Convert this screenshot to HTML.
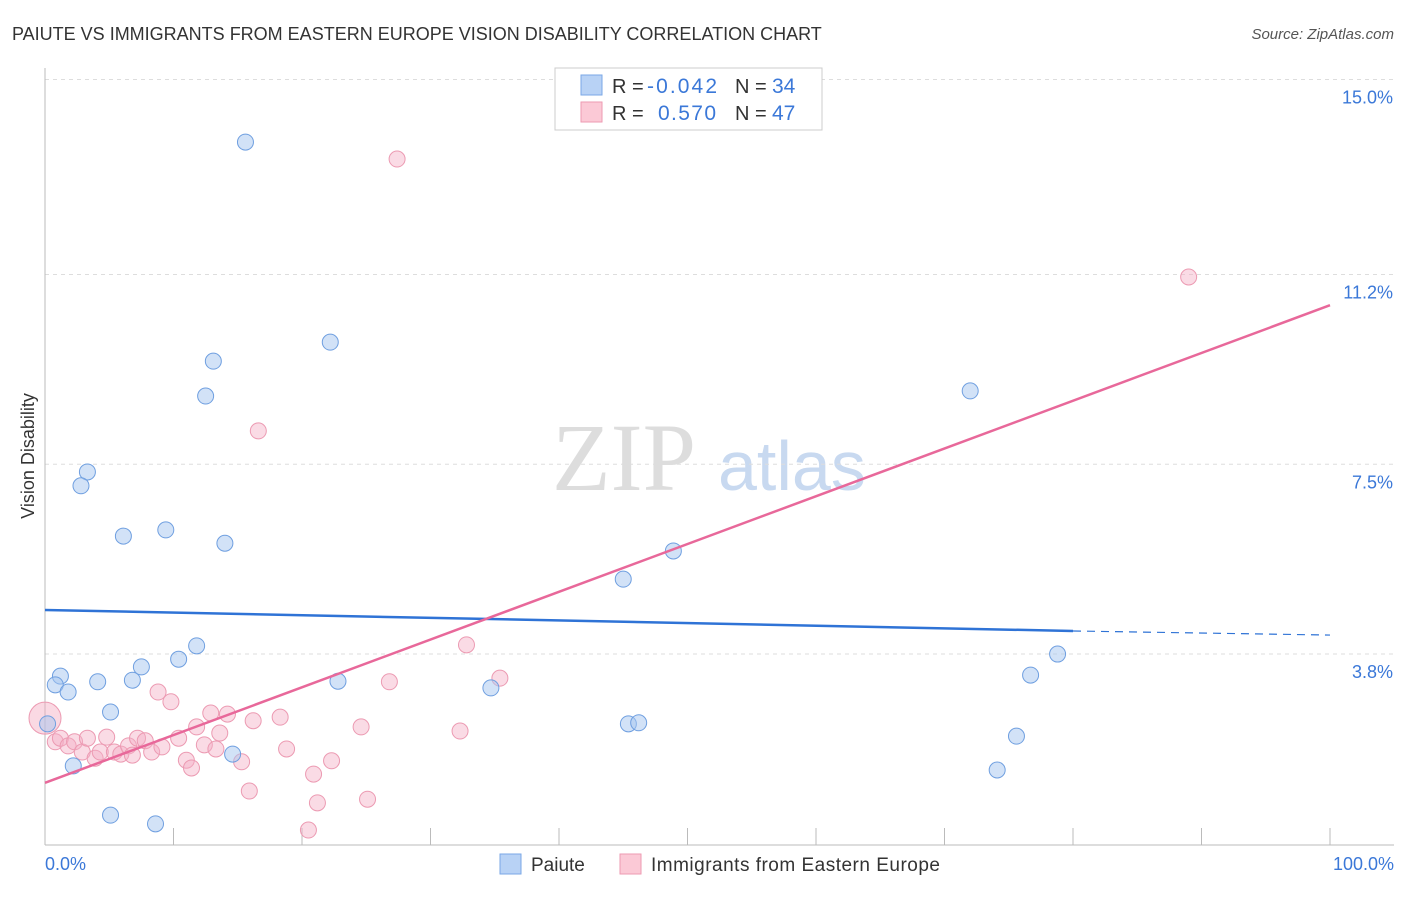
<!DOCTYPE html>
<html><head><meta charset="utf-8">
<style>
body{margin:0;background:#fff;font-family:"Liberation Sans",sans-serif;}
svg text{font-family:"Liberation Sans",sans-serif;}
</style></head>
<body>
<svg id="chart" width="1406" height="892" viewBox="0 0 1406 892">
<text x="12" y="40" font-size="18" fill="#333">PAIUTE VS IMMIGRANTS FROM EASTERN EUROPE VISION DISABILITY CORRELATION CHART</text>
<text x="1394" y="39" font-size="15" fill="#555" font-style="italic" text-anchor="end">Source: ZipAtlas.com</text>
<text x="34" y="456" font-size="18" fill="#333" text-anchor="middle" transform="rotate(-90 34 456)">Vision Disability</text>
<text x="552" y="490" font-size="96" fill="#ddd" style="font-family:'Liberation Serif',serif">ZIP</text>
<text x="718" y="490" font-size="70" fill="#c8d9f0">atlas</text>
<g id="grid"></g>
<g id="axes"></g>
<g id="marks"></g>
<g>
<rect x="555" y="68" width="267" height="62" fill="#fff" stroke="#ccc"/>
<rect x="581" y="75" width="21" height="20" fill="#b8d2f5" stroke="#7aa7e6"/>
<text x="612" y="93" font-size="20" fill="#333">R = </text><text x="647" y="93" font-size="21" fill="#3b78d8" textLength="70">-0.042</text>
<text x="735" y="93" font-size="20" fill="#333">N = </text><text x="772" y="93" font-size="21" fill="#3b78d8">34</text>
<rect x="581" y="102" width="21" height="20" fill="#fbc9d6" stroke="#ee9ab2"/>
<text x="612" y="120" font-size="20" fill="#333">R = </text><text x="658" y="120" font-size="21" fill="#3b78d8" textLength="58">0.570</text>
<text x="735" y="120" font-size="20" fill="#333">N = </text><text x="772" y="120" font-size="21" fill="#3b78d8">47</text>
</g>
<g>
<rect x="500" y="854" width="21" height="20" fill="#b8d2f5" stroke="#7aa7e6"/>
<text x="531" y="871" font-size="19" fill="#333">Paiute</text>
<rect x="620" y="854" width="21" height="20" fill="#fbc9d6" stroke="#ee9ab2"/>
<text x="651" y="871" font-size="19" fill="#333" textLength="289">Immigrants from Eastern Europe</text>
</g>
</svg>
<script>
const yTicks=[15.0,11.2,7.5,3.8];
const yTickLabels=["15.0%","11.2%","7.5%","3.8%"];
const xLabels=["0.0%","100.0%"];
const paiuteX=[15.6,22.2,13.1,12.5,72.0,3.3,2.8,6.1,9.4,14.0,48.9,45.0,11.8,10.4,7.5,1.2,0.8,4.1,6.8,1.8,22.8,34.7,78.8,76.7,5.1,0.2,45.4,46.2,14.6,75.6,2.2,74.1,5.1,8.6];
const paiuteY=[13.78,9.88,9.51,8.83,8.93,7.35,7.08,6.10,6.22,5.96,5.81,5.26,3.96,3.70,3.55,3.37,3.20,3.26,3.29,3.06,3.27,3.14,3.80,3.39,2.67,2.44,2.44,2.46,1.85,2.20,1.62,1.54,0.66,0.49];
const eeX=[27.4,89.0,16.6,32.8,35.4,26.8,8.8,9.8,12.9,14.2,16.2,18.3,24.6,32.3,11.8,0,0.8,1.2,1.8,2.3,2.9,3.3,3.9,4.3,4.8,5.4,5.9,6.5,6.8,7.2,7.8,8.3,9.1,10.4,11.0,11.4,12.4,13.3,13.6,15.3,18.8,20.9,22.3,15.9,21.2,25.1,20.5];
const eeY=[13.45,11.15,8.15,3.98,3.33,3.26,3.06,2.87,2.65,2.63,2.50,2.57,2.38,2.30,2.38,2.55,2.09,2.16,2.01,2.09,1.89,2.16,1.77,1.89,2.18,1.89,1.85,2.01,1.83,2.16,2.11,1.89,1.99,2.16,1.73,1.58,2.03,1.95,2.26,1.70,1.95,1.46,1.72,1.13,0.90,0.97,0.37];
const paiuteTrend=[4.66,4.25,4.17]; // at x=0, 80, 100
const eeTrend=[1.29,10.6]; // at x=0, 100
const NS="http://www.w3.org/2000/svg";
const X=v=>45+v*12.85, Y=v=>849-v*51.3;
function mk(t,a,p){const e=document.createElementNS(NS,t);for(const k in a)e.setAttribute(k,a[k]);p.appendChild(e);return e;}
const grid=document.getElementById('grid'),axes=document.getElementById('axes'),marks=document.getElementById('marks');
yTicks.forEach((t,i)=>{
 const l=mk('line',{x1:45,x2:1394,y1:Y(t),y2:Y(t),stroke:'#ddd','stroke-dasharray':'4,4'},grid);
 
 
 const tx=mk('text',{x:1393,y:Y(t)+24,'font-size':18,fill:'#3b78d8','text-anchor':'end'},grid);
 tx.textContent=yTickLabels[i];
 
 
});
const ax=mk('line',{x1:45,x2:45,y1:68,y2:845,stroke:'#bbb'},axes);


const bx=mk('line',{x1:45,x2:1394,y1:845,y2:845,stroke:'#bbb'},axes);


for(let i=0;i<=10;i++){
 const t=mk('line',{x1:X(i*10),x2:X(i*10),y1:828,y2:845,stroke:'#bbb'},axes);
 
 
}
[[0,'start',45],[100,'end',1394]].forEach((d,i)=>{
 const t=mk('text',{x:d[2],y:870,'font-size':18,fill:'#3b78d8','text-anchor':d[1]},axes);
 t.textContent=xLabels[i];
 
 
});
const big=mk('circle',{cx:X(eeX[15]),cy:Y(eeY[15]),r:16,fill:'rgba(245,170,192,0.45)',stroke:'#ec9ab2'},marks);


eeX.forEach((x,i)=>{
 if(i===15)return;
 const c=mk('circle',{cx:X(x),cy:Y(eeY[i]),r:8,fill:'rgba(245,175,197,0.45)',stroke:'#ec9ab2','stroke-width':1},marks);
 
 
});
paiuteX.forEach((x,i)=>{
 const c=mk('circle',{cx:X(x),cy:Y(paiuteY[i]),r:8,fill:'rgba(165,198,240,0.5)',stroke:'#6f9fe0','stroke-width':1},marks);
 
 
});
const pl=mk('line',{x1:X(0),y1:Y(paiuteTrend[0]),x2:X(80),y2:Y(paiuteTrend[1]),stroke:'#2f73d6','stroke-width':2.5},marks);


const pd=mk('line',{x1:X(80),y1:Y(paiuteTrend[1]),x2:X(100),y2:Y(paiuteTrend[2]),stroke:'#2f73d6','stroke-width':1.2,'stroke-dasharray':'8,6'},marks);


const el=mk('line',{x1:X(0),y1:Y(eeTrend[0]),x2:X(100),y2:Y(eeTrend[1]),stroke:'#e8689a','stroke-width':2.5},marks);


</script>
</body></html>
